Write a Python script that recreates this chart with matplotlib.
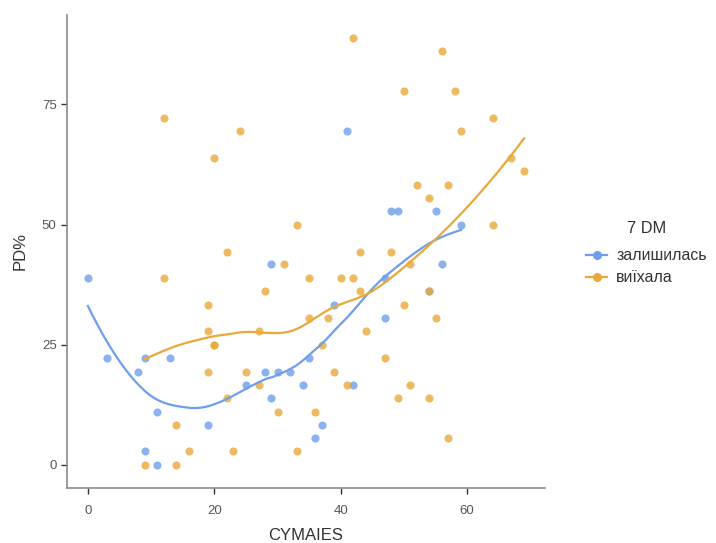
import numpy as np
import matplotlib
matplotlib.use('Agg')
import matplotlib.pyplot as plt
from matplotlib.lines import Line2D

plt.rcParams['font.family'] = ['Liberation Sans', 'DejaVu Sans']

# group "залишилась"
stay_x = [0, 3, 9, 13, 8, 28, 30, 32, 25, 34, 29, 11, 19, 9, 11, 29, 41, 48, 49,
          55, 59, 56, 47, 54, 39, 47, 35, 42, 37, 36]
stay_y = [38.9, 22.2, 22.2, 22.2, 19.4, 19.4, 19.4, 19.4, 16.7, 16.7, 13.9, 11.1,
          8.3, 2.8, 0, 41.7, 69.4, 52.8, 52.8, 52.8, 50, 41.7, 38.9, 36.1, 33.3,
          30.6, 22.2, 16.7, 8.3, 5.6]

# group "виїхала"
left_x = [12, 31, 22, 35, 28, 19, 35, 19, 27, 20, 20, 19, 25, 27, 22, 30, 14, 16,
          23, 33, 9, 14, 12, 24, 20, 33, 42, 56, 50, 58, 64, 59, 67, 69, 52, 57,
          54, 64, 43, 48, 40, 42, 51, 43, 54, 50, 38, 55, 44, 37, 47, 39, 41, 51,
          49, 54, 36, 57]
left_y = [38.9, 41.7, 44.4, 38.9, 36.1, 33.3, 30.6, 27.8, 27.8, 25, 25, 19.4, 19.4,
          16.7, 13.9, 11.1, 8.3, 2.8, 2.8, 2.8, 0, 0, 72.2, 69.4, 63.9, 50, 88.9,
          86.1, 77.8, 77.8, 72.2, 69.4, 63.9, 61.1, 58.3, 58.3, 55.6, 50, 44.4,
          44.4, 38.9, 38.9, 41.7, 36.1, 36.1, 33.3, 30.6, 30.6, 27.8, 25, 22.2,
          19.4, 16.7, 16.7, 13.9, 13.9, 11.1, 5.6]

group_names = ['залишилась', 'виїхала']
blue = '#6f9fea'
orange = '#e9a93a'


def local_fit(x, y, x0, q):
    d = np.abs(x - x0)
    dmax = np.sort(d)[q - 1]
    w = np.clip(1 - (d / dmax) ** 3, 0, None) ** 3
    X = np.vstack([np.ones(len(x)), x - x0, (x - x0) ** 2]).T
    W = np.sqrt(w)
    beta = np.linalg.lstsq(X * W[:, None], y * W, rcond=None)[0]
    return beta[0], beta[1]


def loess(x, y, grid, span=0.75):
    # local quadratic fits at kd-tree vertices, cubic hermite in between (like R)
    x = np.asarray(x, float)
    y = np.asarray(y, float)
    n = len(x)
    q = int(np.floor(n * span))
    fc = int(np.floor(n * span * 0.2))
    xs = np.sort(x)
    t = 0.005 * (xs[-1] - xs[0])
    verts = [xs[0] - t, xs[-1] + t]

    def split(lo, hi):
        pts = xs[lo:hi]
        if len(pts) <= fc:
            return
        m = (len(pts) - 1) // 2
        v = (pts[m] + pts[m + 1]) / 2
        if v <= pts[0] or v >= pts[-1]:
            return
        verts.append(v)
        k = lo + int(np.searchsorted(pts, v, side='right'))
        split(lo, k)
        split(k, hi)

    split(0, n)
    verts = np.sort(verts)
    vals = np.array([local_fit(x, y, v, q) for v in verts])
    out = []
    for g in grid:
        i = min(max(np.searchsorted(verts, g) - 1, 0), len(verts) - 2)
        x0, x1 = verts[i], verts[i + 1]
        h = x1 - x0
        s = (g - x0) / h
        f0, d0 = vals[i]
        f1, d1 = vals[i + 1]
        h00 = 2 * s ** 3 - 3 * s ** 2 + 1
        h10 = s ** 3 - 2 * s ** 2 + s
        h01 = -2 * s ** 3 + 3 * s ** 2
        h11 = s ** 3 - s ** 2
        out.append(h00 * f0 + h10 * h * d0 + h01 * f1 + h11 * h * d1)
    return np.array(out)


fig = plt.figure(figsize=(7.16, 5.43), dpi=100)
ax = fig.add_axes([67 / 716, 55 / 543, 478 / 716, 473 / 543])

ax.scatter(stay_x, stay_y, s=34, color=blue, alpha=0.8, linewidths=0, zorder=2)
ax.scatter(left_x, left_y, s=34, color=orange, alpha=0.8, linewidths=0, zorder=2)

for xs_, ys_, c in [(stay_x, stay_y, blue), (left_x, left_y, orange)]:
    g = np.linspace(min(xs_), max(xs_), 80)
    ax.plot(g, loess(xs_, ys_, g), color=c, lw=1.6, zorder=3)

ax.set_xlim(-3.3, 72.3)
ax.set_ylim(-4.8, 93.6)
ax.set_xticks([0, 20, 40, 60])
ax.set_yticks([0, 25, 50, 75])
for s in ['top', 'right']:
    ax.spines[s].set_visible(False)
for s in ['left', 'bottom']:
    ax.spines[s].set_color('#8c8c8c')
    ax.spines[s].set_linewidth(1.2)
ax.tick_params(colors='#333333', labelcolor='#555555', labelsize=9.5, length=4, width=1)
ax.tick_params(axis='x', pad=8)
ax.set_xlabel('CYMAIES', fontsize=12, color='#333333', labelpad=8)
ax.set_ylabel('PD%', fontsize=12, color='#333333', labelpad=10)

handles = [Line2D([0], [0], color=c, lw=1.6, marker='o', markersize=5.5)
           for c in [blue, orange]]
leg = fig.legend(handles, group_names, title='7 DM', loc='center left',
                 bbox_to_anchor=(572 / 716, 1 - 253 / 543), frameon=False,
                 fontsize=11.4, title_fontsize=11.8, handlelength=1.3,
                 handletextpad=0.6, labelspacing=0.45)
leg.get_title().set_color('#333333')
leg._legend_box.sep = 9
for t in leg.get_texts():
    t.set_color('#333333')

fig.savefig('out.png', dpi=100)
